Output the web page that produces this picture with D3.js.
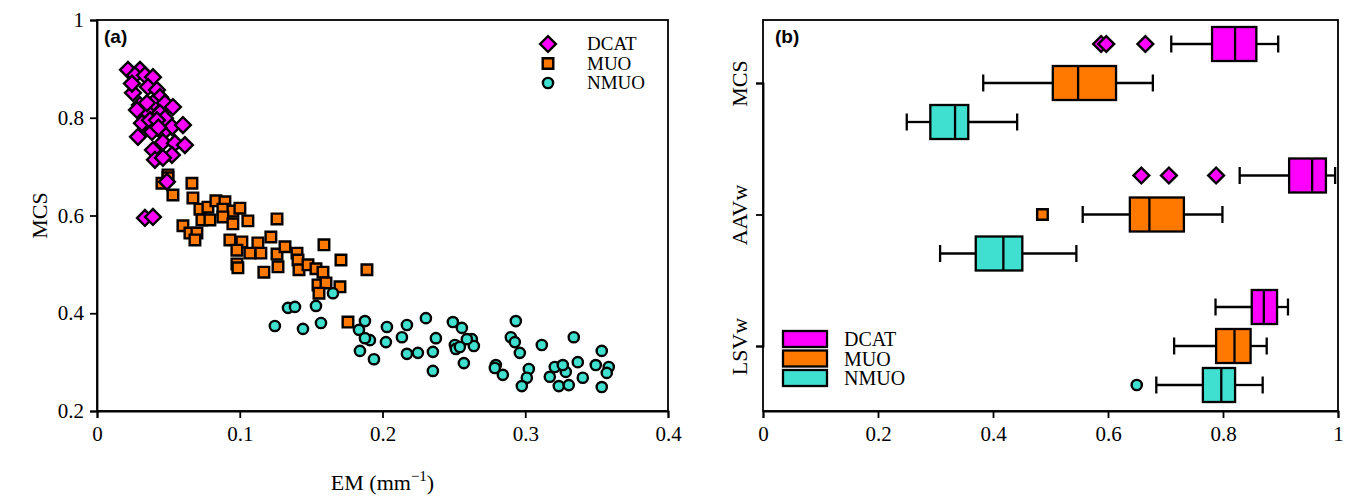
<!DOCTYPE html>
<html>
<head>
<meta charset="utf-8">
<script src="https://cdn.jsdelivr.net/npm/d3@7"></script>
<style>
  body { margin: 0; background: #fff; }
  text { font-family: "Liberation Serif", "Times New Roman", serif; fill: #000; }
  .axis path, .axis line { stroke: #000; stroke-width: 1.8; }
  .axis text { font-size: 21px; font-family: "Liberation Serif", serif; }
</style>
</head>
<body>
<div id="chart"></div>
<script>
const W = 1349, H = 498;
const A = { LEFT: 97, TOP: 20, WIDTH: 571, HEIGHT: 391 };
const B = { LEFT: 763, TOP: 20, WIDTH: 575, HEIGHT: 391 };

const groups = ["DCAT", "MUO", "NMUO"];
const colors = ["#ff00ff", "#ff7800", "#40e0d0"];

// panel (a): EM vs MCS per group
const dcatEM = [0.0217, 0.0301, 0.0266, 0.0336, 0.0392, 0.0252, 0.0357, 0.0420, 0.0441, 0.0301, 0.0392, 0.0476,
  0.0532, 0.0357, 0.0280, 0.0441, 0.0476, 0.0315, 0.0371, 0.0420, 0.0525, 0.0602, 0.0287, 0.0462, 0.0385,
  0.0462, 0.0546, 0.0616, 0.0392, 0.0525, 0.0406, 0.0462, 0.0490, 0.0336, 0.0392, 0.0350, 0.0430, 0.0245];
const dcatMCS = [0.898, 0.898, 0.887, 0.887, 0.883, 0.851, 0.863, 0.857, 0.842, 0.826, 0.830, 0.830,
  0.822, 0.810, 0.816, 0.810, 0.799, 0.789, 0.795, 0.795, 0.781, 0.785, 0.761, 0.769, 0.771,
  0.750, 0.748, 0.744, 0.734, 0.724, 0.714, 0.718, 0.669, 0.595, 0.597, 0.830, 0.780, 0.870];

const muoEM = [0.0497, 0.0497, 0.0455, 0.0532, 0.0665, 0.0672, 0.0721, 0.0777, 0.0833, 0.0896, 0.0882, 0.0952,
  0.1001, 0.0735, 0.0791, 0.0882, 0.0952, 0.1057, 0.1261, 0.0602, 0.0651, 0.0700, 0.0686, 0.0931, 0.1015,
  0.1127, 0.1218, 0.1071, 0.0980, 0.1148, 0.1261, 0.1317, 0.0980, 0.0987, 0.1169, 0.1268, 0.1401, 0.1590,
  0.1408, 0.1415, 0.1478, 0.1534, 0.1583, 0.1709, 0.1891, 0.1548, 0.1604, 0.1702, 0.1555, 0.1758];
const muoMCS = [0.683, 0.677, 0.666, 0.642, 0.666, 0.636, 0.613, 0.617, 0.630, 0.628, 0.613, 0.609,
  0.615, 0.591, 0.591, 0.597, 0.583, 0.589, 0.593, 0.579, 0.564, 0.564, 0.550, 0.550, 0.546,
  0.544, 0.556, 0.523, 0.529, 0.523, 0.521, 0.536, 0.501, 0.493, 0.484, 0.495, 0.523, 0.540,
  0.509, 0.489, 0.499, 0.491, 0.484, 0.509, 0.489, 0.458, 0.462, 0.454, 0.441, 0.382];

const nmuoEM = [0.1653, 0.1338, 0.1387, 0.1534, 0.1246, 0.1443, 0.1569, 0.1877, 0.1835, 0.1912, 0.1877, 0.1842,
  0.1940, 0.2031, 0.2024, 0.2136, 0.2171, 0.2171, 0.2248, 0.2304, 0.2353, 0.2353, 0.2374, 0.2493, 0.2556,
  0.2507, 0.2514, 0.2626, 0.2640, 0.2591, 0.2542, 0.2570, 0.2934, 0.2899, 0.2927, 0.2962, 0.3116, 0.3340,
  0.2794, 0.2787, 0.2843, 0.3025, 0.3011, 0.2976, 0.3207, 0.3172, 0.3235, 0.3305, 0.3284, 0.3263, 0.3368,
  0.3403, 0.3494, 0.3536, 0.3585, 0.3571, 0.3536];
const nmuoMCS = [0.441, 0.411, 0.413, 0.415, 0.374, 0.368, 0.380, 0.384, 0.366, 0.345, 0.349, 0.323,
  0.306, 0.372, 0.341, 0.351, 0.376, 0.317, 0.319, 0.390, 0.282, 0.321, 0.349, 0.382, 0.370,
  0.335, 0.327, 0.347, 0.333, 0.347, 0.331, 0.298, 0.384, 0.351, 0.341, 0.319, 0.335, 0.351,
  0.294, 0.288, 0.274, 0.286, 0.268, 0.251, 0.290, 0.270, 0.251, 0.253, 0.280, 0.294, 0.300,
  0.268, 0.294, 0.323, 0.290, 0.278, 0.249];

// panel (b): box stats [whisker low, q1, median, q3, whisker high] per metric
const metrics = ["MCS", "AAVw", "LSVw"];
const dcatBox = [[0.710, 0.781, 0.821, 0.858, 0.896], [0.829, 0.915, 0.955, 0.979, 0.995], [0.787, 0.850, 0.871, 0.894, 0.913]];
const muoBox = [[0.383, 0.504, 0.548, 0.614, 0.678], [0.556, 0.638, 0.672, 0.732, 0.799], [0.715, 0.788, 0.820, 0.848, 0.876]];
const nmuoBox = [[0.250, 0.291, 0.334, 0.357, 0.442], [0.308, 0.370, 0.418, 0.451, 0.545], [0.684, 0.765, 0.797, 0.821, 0.869]];
const dcatOut = [[0.588, 0.597, 0.665], [0.658, 0.706, 0.788], []];
const muoOut = [[], [0.486], []];
const nmuoOut = [[], [], [0.650]];

const xTicksA = [0, 0.1, 0.2, 0.3, 0.4];
const yTicksA = [0.2, 0.4, 0.6, 0.8, 1];
const xTicksB = [0, 0.2, 0.4, 0.6, 0.8, 1];

const svg = d3.select("#chart").append("svg").attr("width", W).attr("height", H);

// marker shapes
const diamond = d3.symbol().type(d3.symbolSquare).size(125);
const square = d3.symbol().type(d3.symbolSquare).size(112);
const circle = d3.symbol().type(d3.symbolCircle).size(82);
const shapes = [diamond, square, circle];
const rot = [45, 0, 0];

function marker(g, i, x, y) {
  g.append("path")
    .attr("d", shapes[i]())
    .attr("transform", `translate(${x},${y}) rotate(${rot[i]})`)
    .attr("fill", colors[i])
    .attr("stroke", "#000")
    .attr("stroke-width", 2.4);
}

// ---------- panel (a)
const ga = svg.append("g").attr("transform", `translate(${A.LEFT},${A.TOP})`);
const xa = d3.scaleLinear().domain([0, 0.4]).range([0, A.WIDTH]);
const ya = d3.scaleLinear().domain([0.2, 1]).range([A.HEIGHT, 0]);

ga.append("g").attr("class", "axis").attr("transform", `translate(0,${A.HEIGHT})`)
  .call(d3.axisBottom(xa).tickValues(xTicksA).tickSize(7).tickPadding(8).tickFormat(d3.format("~g")));
ga.append("g").attr("class", "axis")
  .call(d3.axisLeft(ya).tickValues(yTicksA).tickSize(7).tickPadding(6).tickFormat(d3.format("~g")));
ga.append("rect").attr("width", A.WIDTH).attr("height", A.HEIGHT)
  .attr("fill", "none").attr("stroke", "#000").attr("stroke-width", 1.8);

const pts = [[dcatEM, dcatMCS], [muoEM, muoMCS], [nmuoEM, nmuoMCS]];
[1, 2, 0].forEach((i) => {
  const [ex, my] = pts[i];
  ex.forEach((v, k) => marker(ga, i, xa(v), ya(my[k])));
});

ga.append("text").attr("x", 7).attr("y", 23).style("font-family", "Liberation Sans, Arial, sans-serif")
  .style("font-weight", "bold").style("font-size", "19px").text("(a)");

// legend (a)
groups.forEach((name, i) => {
  marker(ga, i, 451, 24 + i * 19.5);
  ga.append("text").attr("x", 490).attr("y", 24 + i * 19.5 + 6).style("font-size", "19px").text(name);
});

// axis titles
svg.append("text").attr("transform", `translate(47,${A.TOP + A.HEIGHT / 2}) rotate(-90)`)
  .attr("text-anchor", "middle").style("font-size", "22px").text("MCS");
const xl = svg.append("text").attr("x", A.LEFT + A.WIDTH / 2).attr("y", 490)
  .attr("text-anchor", "middle").style("font-size", "22px");
xl.append("tspan").text("EM (mm");
xl.append("tspan").attr("dy", -9).style("font-size", "15px").text("\u22121");
xl.append("tspan").attr("dy", 9).text(")");

// ---------- panel (b)
const gb = svg.append("g").attr("transform", `translate(${B.LEFT},${B.TOP})`);
const xb = d3.scaleLinear().domain([0, 1]).range([0, B.WIDTH]);
const yb = d3.scalePoint().domain(metrics).range([63, 326]);
const off = d3.scalePoint().domain(groups).range([-39, 39]);
const BOX_H = 34, CAP = 17;

gb.append("g").attr("class", "axis").attr("transform", `translate(0,${B.HEIGHT})`)
  .call(d3.axisBottom(xb).tickValues(xTicksB).tickSize(7).tickPadding(8).tickFormat(d3.format("~g")));
const yAxB = gb.append("g").attr("class", "axis")
  .call(d3.axisLeft(yb).tickSize(7).tickPadding(8));
yAxB.selectAll(".tick text").attr("transform", "rotate(-90)").attr("text-anchor", "middle")
  .attr("x", 0).attr("y", -16).attr("dy", 0).style("font-size", "22px");
gb.append("rect").attr("width", B.WIDTH).attr("height", B.HEIGHT)
  .attr("fill", "none").attr("stroke", "#000").attr("stroke-width", 1.8);

const boxes = [dcatBox, muoBox, nmuoBox];
const outs = [dcatOut, muoOut, nmuoOut];
groups.forEach((name, i) => {
  metrics.forEach((m, j) => {
    const [lo, q1, md, q3, hi] = boxes[i][j];
    const cy = yb(m) + off(name);
    const g = gb.append("g").attr("stroke", "#000").attr("stroke-width", 2.3);
    g.append("line").attr("x1", xb(lo)).attr("x2", xb(q1)).attr("y1", cy).attr("y2", cy);
    g.append("line").attr("x1", xb(q3)).attr("x2", xb(hi)).attr("y1", cy).attr("y2", cy);
    g.append("line").attr("x1", xb(lo)).attr("x2", xb(lo)).attr("y1", cy - CAP / 2).attr("y2", cy + CAP / 2);
    g.append("line").attr("x1", xb(hi)).attr("x2", xb(hi)).attr("y1", cy - CAP / 2).attr("y2", cy + CAP / 2);
    g.append("rect").attr("x", xb(q1)).attr("y", cy - BOX_H / 2).attr("width", xb(q3) - xb(q1))
      .attr("height", BOX_H).attr("fill", colors[i]);
    g.append("line").attr("x1", xb(md)).attr("x2", xb(md)).attr("y1", cy - BOX_H / 2).attr("y2", cy + BOX_H / 2);
    outs[i][j].forEach((v) => marker(gb, i, xb(v), cy));
  });
});

gb.append("text").attr("x", 12).attr("y", 23).style("font-family", "Liberation Sans, Arial, sans-serif")
  .style("font-weight", "bold").style("font-size", "19px").text("(b)");

// legend (b)
groups.forEach((name, i) => {
  const ly = 319 + i * 19.5;
  gb.append("rect").attr("x", 20).attr("y", ly - 8).attr("width", 44).attr("height", 16)
    .attr("fill", colors[i]).attr("stroke", "#000").attr("stroke-width", 2.3);
  gb.append("text").attr("x", 81).attr("y", ly + 7).style("font-size", "20px").text(name);
});
</script>
</body>
</html>
